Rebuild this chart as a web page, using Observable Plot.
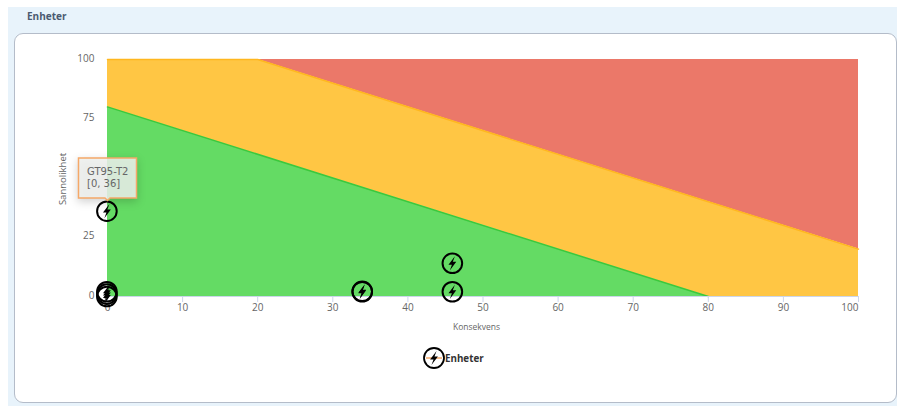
<!DOCTYPE html>
<html lang="no">
<head>
<meta charset="utf-8">
<title>Enheter</title>
<script src="https://cdn.jsdelivr.net/npm/d3@7"></script>
<script src="https://cdn.jsdelivr.net/npm/@observablehq/plot@0.6"></script>
<style>
  html, body { margin: 0; padding: 0; background: #fff; overflow: hidden; }
  body { width: 897px; height: 406px; position: relative; font-family: "Open Sans", sans-serif; }
  #band { position: absolute; left: 8px; top: 7px; width: 889px; height: 399px; background: #e8f3fb; }
  #heading { position: absolute; left: 27px; top: 9px; font-size: 10px; font-weight: 700; color: #4a5a70; line-height: 14px; }
  #card { position: absolute; left: 14px; top: 33px; width: 881px; height: 368px; background: #fff; border: 1px solid #b4bcc9; border-radius: 9px; }
  #chart { position: absolute; left: 0; top: 0; }
  #legend { position: absolute; left: 422px; top: 346px; display: flex; align-items: center; font-size: 9.8px; font-weight: 700; color: #333; }
  #legend svg { display: block; }
</style>
</head>
<body>
<div id="band"></div>
<div id="heading">Enheter</div>
<div id="card"></div>
<div id="chart"></div>
<div id="legend"></div>
<script>
// Risk zones, described by their lower and upper boundary along Konsekvens
const greenX = [0, 80];
const greenUpper = [80, 0];
const orangeX = [0, 20, 80, 100];
const orangeLower = [80, 60, 0, 0];
const orangeUpper = [100, 100, 40, 20];
const redX = [20, 100];
const redLower = [100, 20];

// Units placed in the matrix
const unitConsequence = [0, 0, 0, 0, 34, 34, 46, 46];
const unitProbability = [36, 0, 1, 2, 2, 2.2, 2, 14];

const seriesName = "Enheter";
const xTicks = [0, 10, 20, 30, 40, 50, 60, 70, 80, 90];
const yTicks = [0, 25, 75, 100];

const zone = (xs, lower, upper) => xs.map((x, i) => ({x, lower: lower[i], upper: upper[i]}));
const green = zone(greenX, greenX.map(() => 0), greenUpper);
const orange = zone(orangeX, orangeLower, orangeUpper);
const red = zone(redX, redLower, redX.map(() => 100));
const units = unitConsequence.map((x, i) => ({x, y: unitProbability[i]}));
const hovered = [{x: 0, y: 36, label: "GT95-T2\n[0, 36]"}];

// Lightning bolt scaled from the symbol size
const bolt = {
  draw(ctx, size) {
    const r = Math.sqrt(size / Math.PI);
    const pts = [[0.22, -0.62], [-0.34, 0.12], [-0.04, 0.12], [-0.22, 0.62], [0.34, -0.14], [0.04, -0.14]];
    pts.forEach(([a, b], i) => i ? ctx.lineTo(a * r, b * r) : ctx.moveTo(a * r, b * r));
    ctx.closePath();
  }
};

const font = "'Open Sans', sans-serif";
const axisColor = "#666";

const chart = Plot.plot({
  width: 897,
  height: 406,
  marginLeft: 107,
  marginRight: 39,
  marginTop: 59,
  marginBottom: 110,
  style: {background: "transparent", fontFamily: font, fontSize: "10px", color: axisColor},
  x: {domain: [0, 100]},
  y: {domain: [0, 100]},
  marks: [
    Plot.areaY(red, {x: "x", y1: "lower", y2: "upper", fill: "#e8604f", fillOpacity: 0.85}),
    Plot.areaY(orange, {x: "x", y1: "lower", y2: "upper", fill: "#ffc33a", fillOpacity: 0.95}),
    Plot.areaY(green, {x: "x", y1: "lower", y2: "upper", fill: "#5cd95c", fillOpacity: 0.95}),
    Plot.line(orange, {x: "x", y: "upper", stroke: "#ffb71f", strokeWidth: 1.5}),
    Plot.line(green, {x: "x", y: "upper", stroke: "#3cc83c", strokeWidth: 1.5}),
    Plot.ruleY([0], {stroke: "#ccd6eb"}),
    Plot.axisX({ticks: xTicks, tickSize: 6, tickPadding: 1.5, stroke: "#ccd6eb", fill: axisColor, label: null, fontSize: 10}),
    Plot.axisX({ticks: [100], tickSize: 6, tickPadding: 1.5, stroke: "#ccd6eb", fill: axisColor, label: null, textAnchor: "end", fontSize: 10}),
    Plot.axisY({ticks: yTicks, tickSize: 0, tickPadding: 13, fill: axisColor, label: null, dy: -1, fontSize: 10}),
    Plot.text(["Konsekvens"], {frameAnchor: "bottom", dx: -6.5, dy: 33, fill: axisColor, fontSize: 8.5}),
    Plot.text(["Sannolikhet"], {frameAnchor: "left", rotate: -90, textAnchor: "middle", dx: -45, dy: 1, fill: axisColor, fontSize: 9.5}),
    Plot.dot(units, {x: "x", y: "y", r: 9.8, dx: -0.6, stroke: "#000", strokeWidth: 2}),
    Plot.dot(units, {x: "x", y: "y", r: 11.5, dx: -0.6, symbol: bolt, fill: "#000"}),
    Plot.tip(hovered, {
      x: "x", y: "y", title: "label", anchor: "bottom", dy: -11,
      fill: "#eef1ee", fillOpacity: 0.85, stroke: "#f5a868", strokeWidth: 1.5,
      fontFamily: "'DejaVu Sans', sans-serif", fontSize: 10, textPadding: 8.5, lineHeight: 1.2, pointerSize: 5
    })
  ]
});
document.getElementById("chart").append(chart);

// Legend entry: the series icon with a short line behind it, followed by its name
const legend = d3.select("#legend");
const icon = legend.append("svg").attr("width", 23).attr("height", 24);
icon.append("line").attr("x1", 4).attr("x2", 20).attr("y1", 12).attr("y2", 12).attr("stroke", "#f5a868").attr("stroke-width", 1.5);
icon.append("circle").attr("cx", 12).attr("cy", 12).attr("r", 10).attr("fill", "none").attr("stroke", "#000").attr("stroke-width", 1.8);
icon.append("path").attr("transform", "translate(12,12)").attr("d", d3.symbol(bolt, Math.PI * 132)()).attr("fill", "#000");
legend.append("span").text(seriesName);
</script>
</body>
</html>
